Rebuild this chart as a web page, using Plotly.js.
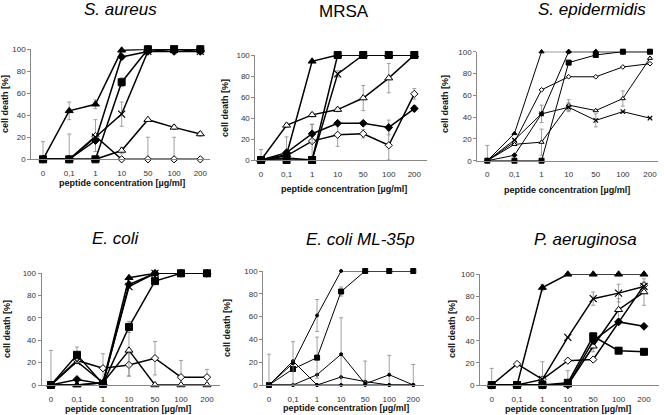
<!DOCTYPE html>
<html>
<head>
<meta charset="utf-8">
<script src="https://cdn.plot.ly/plotly-3.0.1.min.js"></script>
<style>html,body{margin:0;padding:0;background:#fff;}#chart{width:664px;height:415px;}</style>
</head>
<body>
<div id="chart"></div>
<script>
// ---------- DATA ----------
const concentrations = ['0', '0,1', '1', '10', '50', '100', '200'];
const panelTitles = ['S. aureus', 'MRSA', 'S. epidermidis', 'E. coli', 'E. coli ML-35p', 'P. aeruginosa'];
const yTickValues = [0, 20, 40, 60, 80, 100];
const xAxisTitle = 'peptide concentration [µg/ml]';
const yAxisTitle = 'cell death [%]';

// S. aureus
const saureus_triFilled  = [0, 44, 50, 99, 100, 100, 100];
const saureus_square     = [0, 0, 0, 70, 100, 100, 100];
const saureus_diaFilled  = [0, 0, 17, 93, 98, 98, 98];
const saureus_cross      = [0, 0, 20, 41, 98, 100, 98];
const saureus_diaOpen    = [0, 0, 21, 0, 0, 0, 0];
const saureus_triOpen    = [0, 0, 0, 8, 36, 29, 23];
const saureus_errUp_tri  = [0, 8, 4, 0, 0, 0, 0];
const saureus_errUp_sq   = [0, 0, 0, 4, 0, 0, 0];
const saureus_errUp_x    = [0, 0, 0, 11, 0, 0, 0];
const saureus_errUp_do   = [16, 23, 15, 0, 20, 20, 0];
const saureus_errDn_do   = [0, 0, 14, 0, 0, 0, 0];
const saureus_errUp_to   = [0, 0, 0, 3, 0, 2, 2];

// MRSA
const mrsa_triFilled  = [0, 5, 94, 100, 100, 100, 100];
const mrsa_square     = [0, 0, 0, 100, 100, 100, 100];
const mrsa_triOpen    = [0, 33, 43, 48, 59, 78, 100];
const mrsa_diaFilled  = [0, 7, 25, 35, 35, 31, 49];
const mrsa_diaOpen    = [0, 4, 18, 24, 25, 14, 63];
const mrsa_cross      = [0, 2, 0, 82, 100, 100, 100];
const mrsa_errUp_to   = [0, 2, 2, 2, 12, 14, 0];
const mrsa_errUp_df   = [0, 0, 9, 0, 0, 7, 3];
const mrsa_errUp_do   = [10, 18, 16, 11, 4, 14, 5];
const mrsa_errDn_do   = [0, 4, 16, 11, 4, 14, 5];
const mrsa_errUp_x    = [0, 0, 0, 3, 0, 0, 0];

// S. epidermidis
const sepi_triFilled  = [0, 25, 100, 100, 100, 100, 100];
const sepi_square     = [0, 0, 0, 90, 97, 100, 100];
const sepi_diaFilled  = [0, 5, 43, 100, 100, 100, 100];
const sepi_diaOpen    = [0, 17, 65, 77, 77, 86, 89];
const sepi_triOpen    = [0, 15, 17, 51, 46, 57, 94];
const sepi_cross      = [0, 19, 43, 49, 37, 45, 39];
const sepi_errUp_do   = [14, 0, 0, 0, 0, 0, 0];
const sepi_errUp_to   = [0, 0, 12, 5, 0, 7, 0];
const sepi_errUp_df   = [0, 0, 8, 0, 0, 0, 0];
const sepi_errUp_x    = [0, 0, 0, 4, 6, 0, 0];

// E. coli
const ecoli_square     = [0, 27, 1, 52, 93, 100, 100];
const ecoli_triFilled  = [0, 0, 2, 96, 100, 100, 100];
const ecoli_diaFilled  = [0, 5, 1, 90, 100, 100, 100];
const ecoli_cross      = [0, 21, 2, 88, 100, 100, 100];
const ecoli_diaOpen    = [0, 22, 15, 18, 24, 7, 7];
const ecoli_triOpen    = [0, 0, 2, 31, 0, 0, 0];
const ecoli_errUp_do   = [31, 0, 13, 10, 15, 15, 7];
const ecoli_errDn_do   = [0, 0, 13, 10, 15, 7, 0];
const ecoli_errUp_sq   = [0, 7, 0, 5, 0, 0, 0];
const ecoli_errUp_to   = [0, 0, 0, 23, 0, 0, 0];

// E. coli ML-35p
const ml35_seriesA    = [0, 19, 61, 100, 100, 100, 100];
const ml35_square     = [0, 14, 24, 82, 100, 100, 100];
const ml35_seriesB    = [0, 21, 0, 0, 0, 0, 0];
const ml35_seriesC    = [0, 0, 9, 27, 1, 9, 0];
const ml35_seriesD    = [0, 0, 0, 7, 3, 0, 0];
const ml35_errUp_A    = [27, 19, 14, 0, 0, 0, 0];
const ml35_errDn_A    = [0, 19, 14, 0, 0, 0, 0];
const ml35_errUp_sq   = [0, 0, 18, 4, 0, 0, 0];
const ml35_errUp_C    = [0, 0, 0, 32, 20, 17, 18];
const ml35_errDn_C    = [0, 0, 0, 27, 1, 9, 0];

// P. aeruginosa
const paer_triFilled  = [0, 0, 88, 100, 100, 100, 100];
const paer_square     = [0, 0, 0, 2, 44, 31, 30];
const paer_diaFilled  = [0, 0, 0, 0, 40, 57, 53];
const paer_diaOpen    = [0, 19, 5, 22, 23, 57, 90];
const paer_triOpen    = [0, 0, 0, 0, 35, 68, 84];
const paer_cross      = [0, 0, 5, 43, 78, 83, 89];
const paer_errUp_do   = [15, 0, 0, 0, 0, 0, 3];
const paer_errUp_tf   = [0, 0, 3, 0, 0, 0, 0];
const paer_errUp_x    = [0, 0, 16, 0, 6, 8, 0];
const paer_errUp_sq   = [0, 0, 0, 11, 0, 0, 0];
const paer_errUp_to   = [0, 0, 0, 0, 5, 10, 12];

// ---------- STYLE / LAYOUT ----------
const FONT = 'Liberation Sans, Arial, sans-serif';
const W = 664, H = 415;
const panels = [
  {x0: 31.2, x1: 209.5, yTop: 49.2, yBot: 159.3, range: [-0.45, 6.35], big: true},
  {x0: 255.4, x1: 427.1, yTop: 55, yBot: 160, range: [-0.22, 6.5], big: true},
  {x0: 477.3, x1: 658.1, yTop: 51.7, yBot: 160.7, range: [-0.37, 6.3], big: false},
  {x0: 41.6, x1: 220, yTop: 273.3, yBot: 385, range: [-0.36, 6.5], big: true},
  {x0: 263.2, x1: 424.1, yTop: 271, yBot: 385, range: [-0.24, 6.45], big: false},
  {x0: 480, x1: 659.2, yTop: 274.3, yBot: 385, range: [-0.46, 6.6], big: true}
];
const titlePos = [[120, 10], [344, 11], [592, 10], [116, 238], [360, 239], [585, 239]];
const xTitlePos = [[121.5, 183], [343.5, 189], [567, 190], [128, 409], [346, 408], [568, 409]];
const yTitlePos = [[5, 104], [225, 108], [445, 104], [7, 329], [227, 328], [452, 329]];

const styles = {
  triFilled: {symbol: 'triangle-up', color: '#000', line: '#000', k: 1},
  square:    {symbol: 'square', color: '#000', line: '#000', k: 1},
  diaFilled: {symbol: 'diamond', color: '#000', line: '#000', k: 0.85},
  diaOpen:   {symbol: 'diamond', color: '#fff', line: '#000', k: 0.8},
  triOpen:   {symbol: 'triangle-up', color: '#fff', line: '#000', k: 1},
  cross:     {symbol: 'x-thin', color: '#000', line: '#000', k: 1},
  dot:       {symbol: 'circle', color: '#000', line: '#000', k: 1}
};

function errObj(up, dn) {
  if (!up) return {visible: false};
  return {type: 'data', symmetric: false, array: up, arrayminus: dn || up.map(() => 0),
          color: '#888', thickness: 0.8, width: 2};
}

const panelSeries = [
  [
    [saureus_diaOpen, 'diaOpen', saureus_errUp_do, saureus_errDn_do],
    [saureus_triOpen, 'triOpen', saureus_errUp_to, saureus_errUp_to],
    [saureus_cross, 'cross', saureus_errUp_x, saureus_errUp_x],
    [saureus_diaFilled, 'diaFilled'],
    [saureus_square, 'square', saureus_errUp_sq, saureus_errUp_sq],
    [saureus_triFilled, 'triFilled', saureus_errUp_tri, saureus_errUp_tri]
  ],
  [
    [mrsa_diaOpen, 'diaOpen', mrsa_errUp_do, mrsa_errDn_do],
    [mrsa_diaFilled, 'diaFilled', mrsa_errUp_df, mrsa_errUp_df],
    [mrsa_triOpen, 'triOpen', mrsa_errUp_to, mrsa_errUp_to],
    [mrsa_cross, 'cross', mrsa_errUp_x, mrsa_errUp_x],
    [mrsa_triFilled, 'triFilled'],
    [mrsa_square, 'square']
  ],
  [
    [sepi_diaOpen, 'diaOpen', sepi_errUp_do],
    [sepi_triOpen, 'triOpen', sepi_errUp_to, sepi_errUp_to],
    [sepi_cross, 'cross', sepi_errUp_x, sepi_errUp_x],
    [sepi_diaFilled, 'diaFilled', sepi_errUp_df, sepi_errUp_df],
    [sepi_square, 'square'],
    [sepi_triFilled, 'triFilled']
  ],
  [
    [ecoli_diaOpen, 'diaOpen', ecoli_errUp_do, ecoli_errDn_do],
    [ecoli_triOpen, 'triOpen', ecoli_errUp_to, ecoli_errUp_to],
    [ecoli_cross, 'cross'],
    [ecoli_diaFilled, 'diaFilled'],
    [ecoli_square, 'square', ecoli_errUp_sq, ecoli_errUp_sq],
    [ecoli_triFilled, 'triFilled']
  ],
  [
    [ml35_seriesD, 'dot'],
    [ml35_seriesC, 'dot', ml35_errUp_C, ml35_errDn_C],
    [ml35_seriesB, 'dot'],
    [ml35_square, 'square', ml35_errUp_sq, ml35_errUp_sq],
    [ml35_seriesA, 'dot', ml35_errUp_A, ml35_errDn_A]
  ],
  [
    [paer_diaOpen, 'diaOpen', paer_errUp_do],
    [paer_triOpen, 'triOpen', paer_errUp_to, paer_errUp_to],
    [paer_cross, 'cross', paer_errUp_x, paer_errUp_x],
    [paer_diaFilled, 'diaFilled'],
    [paer_square, 'square', paer_errUp_sq, paer_errUp_sq],
    [paer_triFilled, 'triFilled', paer_errUp_tf, paer_errUp_tf]
  ]
];

const traces = [];
const layout = {
  width: W, height: H,
  margin: {l: 0, r: 0, t: 0, b: 0},
  paper_bgcolor: '#fff', plot_bgcolor: 'rgba(0,0,0,0)',
  showlegend: false,
  font: {family: FONT, color: '#222'},
  annotations: []
};

panels.forEach((p, i) => {
  const n = i + 1;
  const xa = n === 1 ? 'x' : 'x' + n;
  const ya = n === 1 ? 'y' : 'y' + n;
  const xKey = n === 1 ? 'xaxis' : 'xaxis' + n;
  const yKey = n === 1 ? 'yaxis' : 'yaxis' + n;
  layout[xKey] = {
    domain: [p.x0 / W, p.x1 / W], anchor: ya, type: 'category',
    categoryorder: 'array', categoryarray: concentrations,
    range: p.range, showgrid: false, zeroline: false,
    showline: true, linecolor: '#888', linewidth: 1,
    ticks: 'outside', ticklen: 6, tickcolor: 'rgba(0,0,0,0)',
    tickfont: {size: 8, family: FONT, color: '#333'},
    fixedrange: true
  };
  layout[yKey] = {
    domain: [1 - p.yBot / H, 1 - p.yTop / H], anchor: xa,
    range: [0, 100], tickvals: yTickValues, showgrid: false, zeroline: false,
    showline: true, linecolor: '#888', linewidth: 1,
    ticks: 'outside', ticklen: 3, tickcolor: '#888',
    tickfont: {size: 8, family: FONT, color: '#333'}, fixedrange: true
  };
  const msize = p.big ? 7 : 4.5;
  const lw = p.big ? 1.5 : 1;
  panelSeries[i].forEach(s => {
    const st = styles[s[1]];
    let size = msize * st.k;
    if (s[1] === 'dot') size = p.big ? 4 : 3;
    if (s[1] === 'square' && !p.big) size = 5;
    traces.push({
      type: 'scatter', mode: 'lines+markers',
      x: concentrations, y: s[0], xaxis: xa, yaxis: ya,
      line: {color: '#000', width: lw},
      marker: {symbol: st.symbol, size: size, color: st.color,
               line: {color: st.line, width: s[1] === 'cross' ? 1.2 : 1}},
      error_y: errObj(s[2], s[3]),
      cliponaxis: false, hoverinfo: 'skip'
    });
  });
  layout.annotations.push({
    text: panelTitles[i], xref: 'paper', yref: 'paper',
    x: titlePos[i][0] / W, y: 1 - titlePos[i][1] / H,
    xanchor: 'center', yanchor: 'middle', showarrow: false,
    font: {size: 17, family: FONT, color: '#000', style: i === 1 ? 'normal' : 'italic'}
  });
  layout.annotations.push({
    text: '<b>' + xAxisTitle + '</b>', xref: 'paper', yref: 'paper',
    x: xTitlePos[i][0] / W, y: 1 - xTitlePos[i][1] / H,
    xanchor: 'center', yanchor: 'middle', showarrow: false,
    font: {size: 9, family: FONT, color: '#111'}
  });
  layout.annotations.push({
    text: '<b>' + yAxisTitle + '</b>', xref: 'paper', yref: 'paper',
    x: yTitlePos[i][0] / W, y: 1 - yTitlePos[i][1] / H, textangle: -90,
    xanchor: 'center', yanchor: 'middle', showarrow: false,
    font: {size: 9, family: FONT, color: '#111'}
  });
});

Plotly.newPlot('chart', traces, layout, {staticPlot: true, displayModeBar: false});
</script>
</body>
</html>
